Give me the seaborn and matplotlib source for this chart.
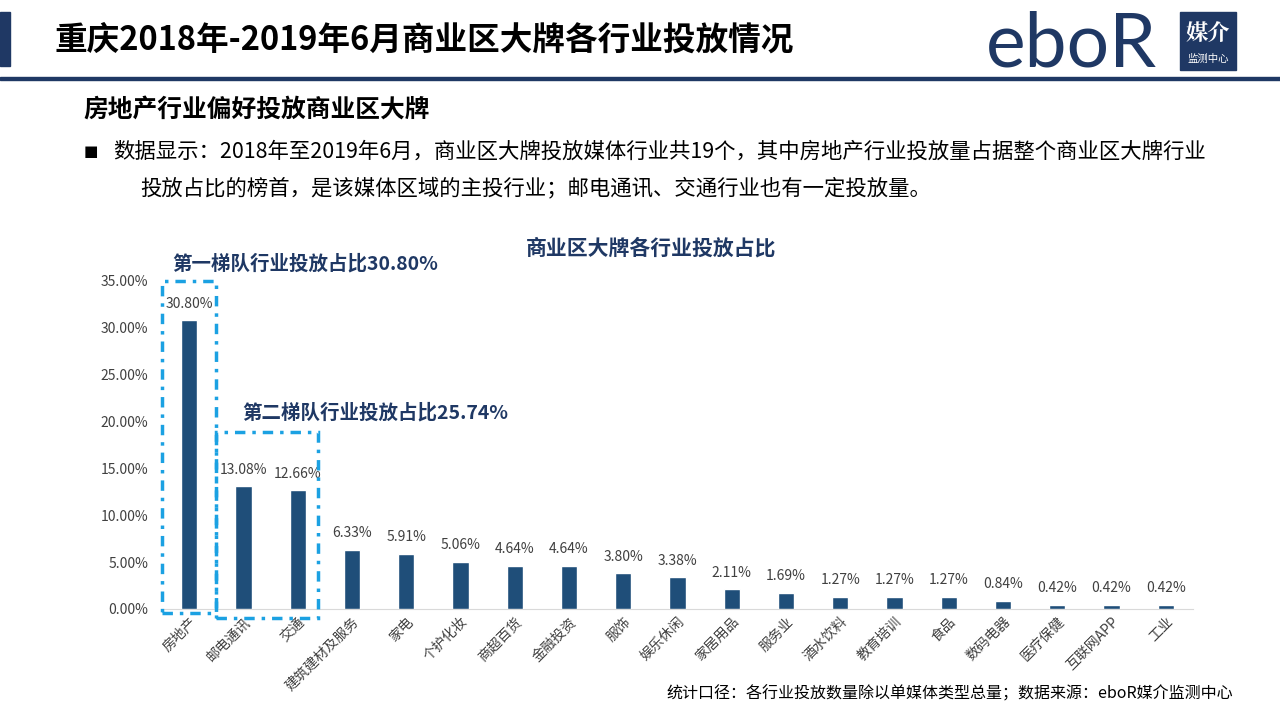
import numpy as np
import pandas as pd
import matplotlib
matplotlib.use('Agg')
import matplotlib.pyplot as plt
import seaborn as sns
from matplotlib.patches import Rectangle

# Chart data
categories = ['房地产', '邮电通讯', '交通', '建筑建材及服务', '家电', '个护化妆', '商超百货',
              '金融投资', '服饰', '娱乐休闲', '家居用品', '服务业', '酒水饮料', '教育培训',
              '食品', '数码电器', '医疗保健', '互联网APP', '工业']
shares = [30.80, 13.08, 12.66, 6.33, 5.91, 5.06, 4.64, 4.64, 3.80, 3.38,
          2.11, 1.69, 1.27, 1.27, 1.27, 0.84, 0.42, 0.42, 0.42]
y_ticks = [0, 5, 10, 15, 20, 25, 30, 35]

page_title = '重庆2018年-2019年6月商业区大牌各行业投放情况'
subtitle = '房地产行业偏好投放商业区大牌'
body_1 = '数据显示：2018年至2019年6月，商业区大牌投放媒体行业共19个，其中房地产行业投放量占据整个商业区大牌行业'
body_2 = '投放占比的榜首，是该媒体区域的主投行业；邮电通讯、交通行业也有一定投放量。'
chart_title = '商业区大牌各行业投放占比'
tier1_label = '第一梯队行业投放占比30.80%'
tier2_label = '第二梯队行业投放占比25.74%'
footnote = '统计口径：各行业投放数量除以单媒体类型总量；数据来源：eboR媒介监测中心'

df = pd.DataFrame({'industry': categories, 'share': shares})

sns.set_style('white')
plt.rcParams['font.family'] = ['Noto Sans CJK SC', 'DejaVu Sans']

navy = '#1f3864'
bar_col = '#1f4e79'
cyan = '#1ba1e2'
grey_txt = '#404040'

fig = plt.figure(figsize=(12.8, 7.2), dpi=100)
W, H = 1280, 720


def px(x, y):
    return x / W, 1 - y / H


# header
fig.patches.append(Rectangle(px(0, 66), 10 / W, 54 / H, transform=fig.transFigure,
                             color=navy, zorder=1))
fig.text(*px(55, 40), page_title, fontsize=23.5, fontweight='bold', color='black', va='center')
fig.patches.append(Rectangle(px(0, 80), 1, 3 / H, transform=fig.transFigure,
                             color=navy, zorder=1))

# logo
fig.text(*px(986, 45), 'eboR', fontsize=54, color=navy, family=['Lato', 'DejaVu Sans'],
         fontweight='normal', va='center')
fig.patches.append(Rectangle(px(1180, 70), 56 / W, 58 / H, transform=fig.transFigure,
                             color=navy, zorder=1))
fig.text(*px(1208, 34), '媒介', fontsize=16, fontweight='bold', color='white',
         family=['Noto Serif CJK SC', 'Noto Sans CJK SC'], ha='center', va='center')
fig.text(*px(1208, 59), '监测中心', fontsize=7.5, color='white', ha='center', va='center')

# subtitle and bullet text
fig.text(*px(83, 110), subtitle, fontsize=17.8, fontweight='bold', color='black', va='center')
fig.text(*px(84, 152), '■', fontsize=11, color='black', va='center',
         family=['DejaVu Sans'])
fig.text(*px(113, 152), body_1, fontsize=15.4, color='black', va='center')
fig.text(*px(140, 188), body_2, fontsize=15.4, color='black', va='center')

# chart
ax = fig.add_axes([162 / W, 111 / H, 1031 / W, 328 / H])
sns.barplot(data=df, x='industry', y='share', color=bar_col, width=0.3,
            saturation=1, ax=ax, zorder=3)
ax.set_ylim(0, 35)
ax.set_xlim(-0.5, len(categories) - 0.5)
ax.set_yticks(y_ticks)
ax.set_yticklabels([f'{t:.2f}%' for t in y_ticks])
ax.tick_params(axis='y', length=0, labelsize=10, labelcolor=grey_txt, pad=10)
ax.tick_params(axis='x', length=0, labelsize=10, labelcolor=grey_txt, pad=4)
plt.setp(ax.get_xticklabels(), rotation=45, ha='right', rotation_mode='anchor')
ax.set_xlabel('')
ax.set_ylabel('')
for s in ['top', 'right', 'left']:
    ax.spines[s].set_visible(False)
ax.spines['bottom'].set_color('#d9d9d9')
ax.patch.set_alpha(0)

for i, v in enumerate(shares):
    ax.annotate(f'{v:.2f}%', (i, v), xytext=(0, 7), textcoords='offset points',
                ha='center', va='bottom', fontsize=10, color=grey_txt)

# tier boxes
dash = (0, (3, 2, 1, 2))
ax.add_patch(Rectangle((-0.5, -0.45), 1.0, 35.4, fill=False, ec=cyan, lw=2.5,
                       ls=dash, clip_on=False, zorder=4))
ax.add_patch(Rectangle((0.5, -0.95), 1.88, 19.85, fill=False, ec=cyan, lw=2.5,
                       ls=dash, clip_on=False, zorder=4))

fig.text(*px(172, 264), tier1_label, fontsize=14, fontweight='bold', color=navy, va='center')
fig.text(*px(242, 413), tier2_label, fontsize=14, fontweight='bold', color=navy, va='center')
fig.text(*px(651, 248), chart_title, fontsize=15, fontweight='bold', color=navy,
         ha='center', va='center')

fig.text(*px(1233, 694), footnote, fontsize=11.5, color='black', ha='right', va='center')

fig.savefig('out.png', dpi=100)
